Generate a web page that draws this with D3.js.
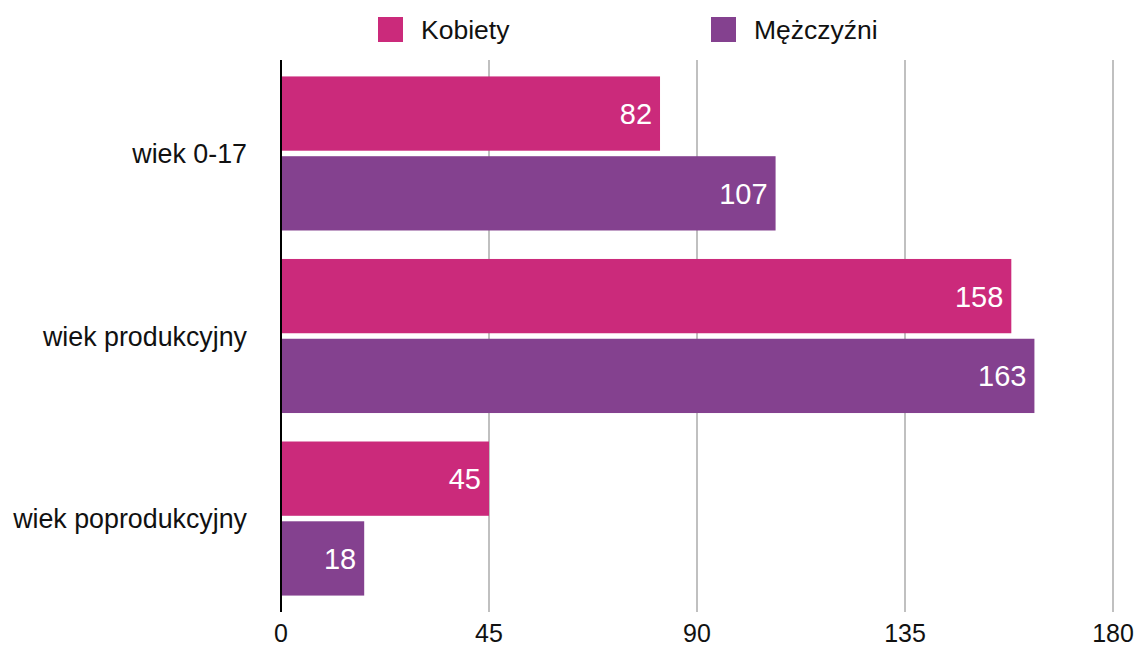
<!DOCTYPE html>
<html>
<head>
<meta charset="utf-8">
<script src="https://cdn.jsdelivr.net/npm/d3@7"></script>
<style>
  body { margin: 0; background: #fff; }
  svg { display: block; font-family: "Liberation Sans", Arial, Helvetica, sans-serif; }
</style>
</head>
<body>
<div id="chart"></div>
<script>
// data
var categories = ['wiek 0-17', 'wiek produkcyjny', 'wiek poprodukcyjny'];
var seriesNames = ['Kobiety', 'Mężczyźni'];
var kobiety = [82, 158, 45];
var mezczyzni = [107, 163, 18];
var tickValues = [0, 45, 90, 135, 180];
var colors = ['#CB2A7B', '#84418F'];

var width = 1138, height = 648;
var margin = {top: 60, right: 25, bottom: 36, left: 281};

var svg = d3.select('#chart').append('svg')
    .attr('width', width)
    .attr('height', height);

var x = d3.scaleLinear()
    .domain([0, 180])
    .range([margin.left, width - margin.right]);

var y0 = d3.scaleBand()
    .domain(categories)
    .range([margin.top, height - margin.bottom])
    .paddingInner(0.156)
    .paddingOuter(0.09);

var y1 = d3.scaleBand()
    .domain(seriesNames)
    .range([0, y0.bandwidth()])
    .paddingInner(0.069);

var rows = categories.map(function(c, i) {
    return {cat: c, values: [kobiety[i], mezczyzni[i]]};
});

// gridlines
svg.append('g')
    .selectAll('line')
    .data(tickValues.slice(1))
    .enter().append('line')
    .attr('x1', function(d) { return x(d); })
    .attr('x2', function(d) { return x(d); })
    .attr('y1', margin.top)
    .attr('y2', height - margin.bottom)
    .attr('stroke', '#c0c0c0')
    .attr('stroke-width', 2);

// bars
var groups = svg.append('g')
    .selectAll('g')
    .data(rows)
    .enter().append('g')
    .attr('transform', function(d) { return 'translate(0,' + y0(d.cat) + ')'; });

groups.selectAll('rect')
    .data(function(d) { return d.values.map(function(v, j) { return {name: seriesNames[j], v: v, j: j}; }); })
    .enter().append('rect')
    .attr('x', x(0))
    .attr('y', function(d) { return y1(d.name); })
    .attr('width', function(d) { return x(d.v) - x(0); })
    .attr('height', y1.bandwidth())
    .attr('fill', function(d) { return colors[d.j]; });

groups.selectAll('text')
    .data(function(d) { return d.values.map(function(v, j) { return {name: seriesNames[j], v: v}; }); })
    .enter().append('text')
    .attr('x', function(d) { return x(d.v) - 8; })
    .attr('y', function(d) { return y1(d.name) + y1.bandwidth() / 2; })
    .attr('dy', '0.36em')
    .attr('text-anchor', 'end')
    .attr('fill', '#fff')
    .attr('font-size', 29)
    .text(function(d) { return d.v; });

// y axis line
svg.append('line')
    .attr('x1', x(0))
    .attr('x2', x(0))
    .attr('y1', margin.top)
    .attr('y2', height - margin.bottom)
    .attr('stroke', '#000')
    .attr('stroke-width', 2);

// category labels
svg.append('g')
    .selectAll('text')
    .data(categories)
    .enter().append('text')
    .attr('x', 247)
    .attr('y', function(d) { return y0(d) + y0.bandwidth() / 2; })
    .attr('dy', '0.36em')
    .attr('text-anchor', 'end')
    .attr('font-size', 26.8)
    .attr('fill', '#111')
    .text(function(d) { return d; });

// x tick labels
svg.append('g')
    .selectAll('text')
    .data(tickValues)
    .enter().append('text')
    .attr('x', function(d) { return x(d); })
    .attr('y', 642)
    .attr('text-anchor', 'middle')
    .attr('font-size', 25)
    .attr('fill', '#111')
    .text(function(d) { return d; });

// legend
var legendX = [378, 711];
var legend = svg.append('g')
    .selectAll('g')
    .data(seriesNames)
    .enter().append('g')
    .attr('transform', function(d, i) { return 'translate(' + legendX[i] + ',17)'; });

legend.append('rect')
    .attr('width', 25)
    .attr('height', 25)
    .attr('fill', function(d, i) { return colors[i]; });

legend.append('text')
    .attr('x', 43)
    .attr('y', 12.5)
    .attr('dy', '0.36em')
    .attr('font-size', 26.5)
    .attr('fill', '#111')
    .text(function(d) { return d; });
</script>
</body>
</html>
